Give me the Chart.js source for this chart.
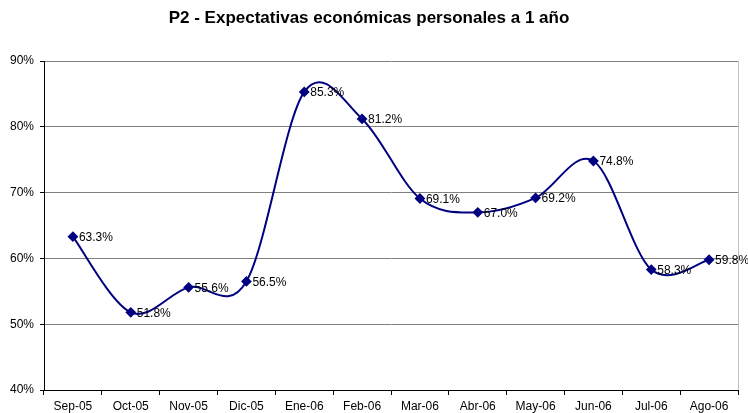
<!DOCTYPE html>
<html>
<head>
<meta charset="utf-8">
<script src="https://cdn.jsdelivr.net/npm/chart.js@4"></script>
<style>
  html, body { margin: 0; padding: 0; background: #fff; }
  #wrap { width: 748px; height: 413px; }
</style>
</head>
<body>
<div id="wrap"><canvas id="myChart" width="748" height="413"></canvas></div>
<script>
var months = ['Sep-05', 'Oct-05', 'Nov-05', 'Dic-05', 'Ene-06', 'Feb-06',
	'Mar-06', 'Abr-06', 'May-06', 'Jun-06', 'Jul-06', 'Ago-06'];
var expectativas = [63.3, 51.8, 55.6, 56.5, 85.3, 81.2, 69.1, 67.0, 69.2, 74.8, 58.3, 59.8];
var yTicks = [40, 50, 60, 70, 80, 90];

var FONT = '"Liberation Sans", Arial, sans-serif';

// excel-like smoothing: catmull-rom control points from the scaled points
var excelSmooth = {
	id: 'excelSmooth',
	beforeDatasetDraw: function(chart, args) {
		var line = args.meta.dataset;
		line.updateControlPoints(chart.chartArea, 'x');
		var pts = args.meta.data;
		for (var i = 0; i < pts.length; i++) {
			var prev = pts[Math.max(i - 1, 0)];
			var next = pts[Math.min(i + 1, pts.length - 1)];
			var dx = (next.x - prev.x) / 6;
			var dy = (next.y - prev.y) / 6;
			pts[i].cp1x = pts[i].x - dx;
			pts[i].cp1y = pts[i].y - dy;
			pts[i].cp2x = pts[i].x + dx;
			pts[i].cp2y = pts[i].y + dy;
		}
	}
};

// labels next to each point + light right border
var pointLabels = {
	id: 'pointLabels',
	afterDatasetsDraw: function(chart) {
		var ctx = chart.ctx;
		var area = chart.chartArea;
		ctx.save();
		ctx.strokeStyle = '#c0c0c0';
		ctx.lineWidth = 1;
		ctx.beginPath();
		ctx.moveTo(Math.round(area.right) + 0.5, area.top);
		ctx.lineTo(Math.round(area.right) + 0.5, area.bottom);
		ctx.stroke();

		ctx.font = '12px ' + FONT;
		ctx.fillStyle = '#000';
		ctx.textAlign = 'left';
		ctx.textBaseline = 'middle';
		chart.getDatasetMeta(0).data.forEach(function(pt, i) {
			ctx.fillText(expectativas[i].toFixed(1) + '%', pt.x + 6, pt.y + 1);
		});
		ctx.restore();
	}
};

var chartConfig = {
	type: 'line',
	data: {
		labels: months,
		datasets: [{
			label: 'P2',
			data: expectativas,
			borderColor: '#000080',
			backgroundColor: '#000080',
			borderWidth: 2,
			tension: 0.4,
			pointStyle: 'rectRot',
			pointRadius: 4,
			pointHoverRadius: 4,
			clip: false
		}]
	},
	options: {
		responsive: false,
		animation: false,
		layout: { padding: { left: 0, right: 10, top: 0, bottom: 0 } },
		plugins: {
			legend: { display: false },
			tooltip: { enabled: false },
			title: {
				display: true,
				text: 'P2 - Expectativas económicas personales a 1 año',
				color: '#000',
				font: { family: FONT, size: 17, weight: 'bold', lineHeight: 1.2 },
				padding: { top: 8, bottom: 32.6 }
			}
		},
		scales: {
			x: {
				offset: true,
				grid: {
					display: true,
					drawOnChartArea: false,
					drawTicks: true,
					tickLength: 5,
					tickColor: '#000',
					offset: true
				},
				border: { color: '#000', width: 1 },
				ticks: {
					color: '#000',
					padding: 4,
					maxRotation: 0,
					autoSkip: false,
					font: { family: FONT, size: 12 }
				},
				afterFit: function(scale) { scale.height = 23; }
			},
			y: {
				min: 40,
				max: 90,
				afterBuildTicks: function(scale) {
					scale.ticks = yTicks.map(function(v) { return { value: v }; });
				},
				grid: {
					color: '#808080',
					lineWidth: 1,
					tickLength: 4,
					tickColor: '#000'
				},
				border: { color: '#000', width: 1 },
				ticks: {
					color: '#000',
					padding: 6,
					font: { family: FONT, size: 12 },
					callback: function(v) { return v + '%'; }
				},
				afterFit: function(scale) { scale.width = 44; }
			}
		}
	},
	plugins: [excelSmooth, pointLabels]
};

var ctx = document.getElementById('myChart').getContext('2d');
var myChart = new Chart(ctx, chartConfig);
</script>
</body>
</html>
